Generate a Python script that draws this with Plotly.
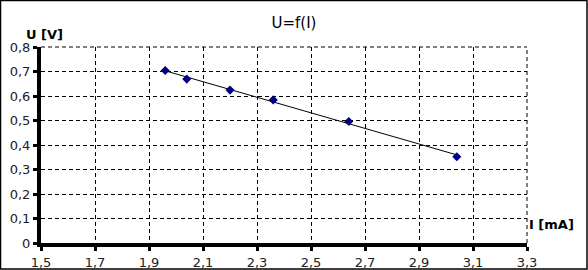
import numpy as np
import plotly.graph_objects as go

current_mA = [1.96, 2.04, 2.20, 2.36, 2.64, 3.04]
voltage_V = [0.704, 0.669, 0.624, 0.584, 0.496, 0.352]

x_ticks = [1.5, 1.7, 1.9, 2.1, 2.3, 2.5, 2.7, 2.9, 3.1, 3.3]
x_ticktext = ["1,5", "1,7", "1,9", "2,1", "2,3", "2,5", "2,7", "2,9", "3,1", "3,3"]
y_ticks = [0, 0.1, 0.2, 0.3, 0.4, 0.5, 0.6, 0.7, 0.8]
y_ticktext = ["0", "0,1", "0,2", "0,3", "0,4", "0,5", "0,6", "0,7", "0,8"]

W, H = 588, 270
ML, MR, MT, MB = 41, 61, 47, 27

slope, intercept = np.polyfit(current_mA, voltage_V, 1)
fit_x = [min(current_mA), max(current_mA)]
fit_y = [slope * v + intercept for v in fit_x]

fig = go.Figure()
fig.add_trace(go.Scatter(x=fit_x, y=fit_y, mode="lines",
                         line=dict(color="black", width=1), showlegend=False, hoverinfo="skip"))
fig.add_trace(go.Scatter(x=current_mA, y=voltage_V, mode="markers",
                         marker=dict(symbol="diamond", size=7, color="#000080"),
                         showlegend=False))

font = dict(family="DejaVu Sans", size=13, color="#222222")
pw = W - ML - MR
ph = H - MT - MB
grid_dash = "4px,3px"

fig.update_layout(
    width=W, height=H,
    margin=dict(l=ML, r=MR, t=MT, b=MB, autoexpand=False),
    paper_bgcolor="white", plot_bgcolor="white",
    font=font,
    title=dict(text="U=f(I)", x=0.5, xanchor="center", y=1 - 23 / H, yanchor="middle",
               font=dict(family="DejaVu Sans", size=15, color="black")),
    xaxis=dict(range=[1.5, 3.3], tickvals=x_ticks, ticktext=x_ticktext,
               showgrid=True, gridcolor="black", gridwidth=1, griddash=grid_dash,
               showline=True, linecolor="black", linewidth=4,
               ticks="outside", ticklen=4, tickwidth=3, tickcolor="black",
               zeroline=False, tickfont=font, automargin=False),
    yaxis=dict(range=[0, 0.8], tickvals=y_ticks, ticktext=y_ticktext,
               showgrid=True, gridcolor="black", gridwidth=1, griddash=grid_dash,
               showline=True, linecolor="black", linewidth=4,
               ticks="outside", ticklen=4, tickwidth=3, tickcolor="black",
               zeroline=False, tickfont=font, automargin=False),
    annotations=[
        dict(text="<b>U [V]</b>", xref="paper", yref="paper",
             x=(44 - ML) / pw, y=(H - MB - 35) / ph, xanchor="center", yanchor="middle",
             showarrow=False, font=dict(family="DejaVu Sans", size=13, color="black")),
        dict(text="<b>I [mA]</b>", xref="paper", yref="paper",
             x=(527 - ML) / pw, y=(H - MB - 224) / ph, xanchor="left", yanchor="middle",
             showarrow=False, font=dict(family="DejaVu Sans", size=13, color="black")),
    ],
    shapes=[
        dict(type="line", xref="paper", yref="paper", x0=0, x1=1, y0=1, y1=1,
             line=dict(color="black", width=1, dash=grid_dash), layer="below"),
        dict(type="line", xref="paper", yref="paper", x0=1, x1=1, y0=0, y1=1,
             line=dict(color="black", width=1, dash=grid_dash), layer="below"),
        dict(type="rect", xref="paper", yref="paper",
             x0=(0.5 - ML) / pw, x1=(W - 1.0 - ML) / pw,
             y0=(H - MB - (H - 1.0)) / ph, y1=(H - MB - 0.5) / ph,
             line=dict(color="black", width=1.5), fillcolor="rgba(0,0,0,0)", layer="above"),
    ],
)

fig.write_html("out.html")
